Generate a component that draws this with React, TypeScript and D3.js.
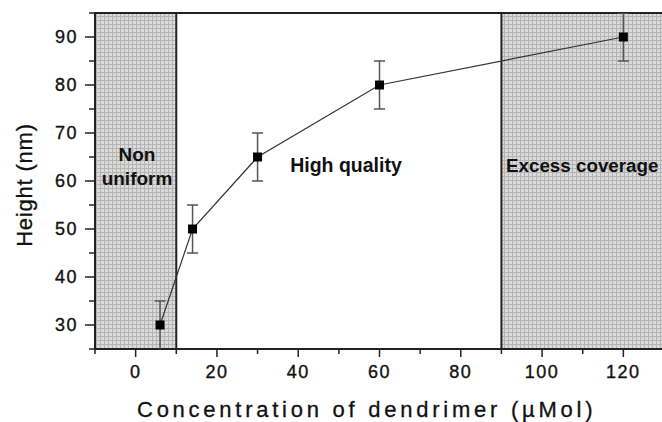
import React from "react";
import * as d3 from "d3";

const concentrations = [6, 14, 30, 60, 120];
const heights = [30, 50, 65, 80, 90];
const errors = [5, 5, 5, 5, 5];
const xTicks = [0, 20, 40, 60, 80, 100, 120];
const yTicks = [30, 40, 50, 60, 70, 80, 90];
const regions = [
  { from: -10, to: 10 },
  { from: 90, to: 130 },
];

const W = 662;
const H = 422;
const FONT = "'Liberation Sans', Arial, sans-serif";

export default function App() {
  const x = d3.scaleLinear().domain([-10, 130]).range([95, 664]);
  const y = d3.scaleLinear().domain([25, 95]).range([349, 13]);
  const pts = concentrations.map((c, i) => ({ c, h: heights[i], e: errors[i] }));
  const line = d3
    .line<{ c: number; h: number }>()
    .x((d) => x(d.c))
    .y((d) => y(d.h));
  const xMinor = d3.range(-10, 131, 10).filter((v) => !xTicks.includes(v));
  const yMinor = d3.range(25, 96, 5).filter((v) => !yTicks.includes(v));
  const clampY = (v: number) => Math.max(25, Math.min(95, v));

  return (
    <svg
      width={W}
      height={H}
      style={{ position: "absolute", left: 0, top: 0, background: "#fff" }}
      fontFamily={FONT}
    >
      <defs>
        <pattern id="hatch" width="4" height="4" patternUnits="userSpaceOnUse">
          <rect width="4" height="4" fill="#dadada" />
          <rect x="0" y="0" width="1" height="4" fill="#b4b4b4" />
          <rect x="0" y="0" width="4" height="1" fill="#b4b4b4" />
        </pattern>
        <clipPath id="plot">
          <rect x={95} y={13} width={W - 95} height={349 - 13} />
        </clipPath>
      </defs>

      {regions.map((r, i) => (
        <rect
          key={i}
          x={x(r.from)}
          y={y(95)}
          width={x(r.to) - x(r.from)}
          height={y(25) - y(95)}
          fill="url(#hatch)"
        />
      ))}
      <line x1={x(10)} x2={x(10)} y1={y(95)} y2={y(25)} stroke="#222" strokeWidth={2} />
      <line x1={x(90)} x2={x(90)} y1={y(95)} y2={y(25)} stroke="#222" strokeWidth={2} />

      <line x1={95} x2={W} y1={y(95)} y2={y(95)} stroke="#222" strokeWidth={2} />
      <line x1={95} x2={W} y1={y(25)} y2={y(25)} stroke="#222" strokeWidth={2} />
      <line x1={95} x2={95} y1={y(95) - 1} y2={y(25) + 1} stroke="#222" strokeWidth={2} />

      {yTicks.map((t) => (
        <g key={"yt" + t}>
          <line x1={85} x2={95} y1={y(t)} y2={y(t)} stroke="#222" strokeWidth={1.5} />
          <text
            x={78}
            y={y(t)}
            dy="0.36em"
            textAnchor="end"
            fontSize={18}
            letterSpacing={1.5}
            fill="#111"
            stroke="#111"
            strokeWidth={0.35}
          >
            {t}
          </text>
        </g>
      ))}
      {yMinor.map((t) => (
        <line key={"ym" + t} x1={89} x2={95} y1={y(t)} y2={y(t)} stroke="#222" strokeWidth={1.5} />
      ))}

      {xTicks.map((t) => (
        <g key={"xt" + t}>
          <line x1={x(t)} x2={x(t)} y1={349} y2={357} stroke="#222" strokeWidth={1.5} />
          <text
            x={x(t)}
            y={378}
            textAnchor="middle"
            fontSize={18}
            letterSpacing={1.5}
            fill="#111"
            stroke="#111"
            strokeWidth={0.35}
          >
            {t}
          </text>
        </g>
      ))}
      {xMinor.map((t) => (
        <line key={"xm" + t} x1={x(t)} x2={x(t)} y1={349} y2={354} stroke="#222" strokeWidth={1.5} />
      ))}

      <text x={137} y={161} textAnchor="middle" fontSize={19} fontWeight="bold" fill="#111">
        Non
      </text>
      <text x={137} y={185} textAnchor="middle" fontSize={19} fontWeight="bold" fill="#111">
        uniform
      </text>
      <text x={346} y={172} textAnchor="middle" fontSize={19.5} fontWeight="bold" fill="#111">
        High quality
      </text>
      <text x={506} y={172} fontSize={18.8} fontWeight="bold" fill="#111">
        Excess coverage
      </text>

      <g clipPath="url(#plot)">
        <path d={line(pts) || ""} fill="none" stroke="#333" strokeWidth={1.2} />
        {pts.map((p, i) => (
          <g key={"eb" + i} stroke="#555" strokeWidth={1.5}>
            <line x1={x(p.c)} x2={x(p.c)} y1={y(clampY(p.h + p.e))} y2={y(clampY(p.h - p.e))} />
            {p.h + p.e <= 95 && (
              <line x1={x(p.c) - 5.5} x2={x(p.c) + 5.5} y1={y(p.h + p.e)} y2={y(p.h + p.e)} />
            )}
            {p.h - p.e > 25 && (
              <line x1={x(p.c) - 5.5} x2={x(p.c) + 5.5} y1={y(p.h - p.e)} y2={y(p.h - p.e)} />
            )}
          </g>
        ))}
        {pts.map((p, i) => (
          <rect key={"pt" + i} x={x(p.c) - 4.5} y={y(p.h) - 4.5} width={9} height={9} fill="#000" />
        ))}
      </g>

      <text
        transform={`translate(32,185) rotate(-90)`}
        textAnchor="middle"
        fontSize={22}
        letterSpacing={0.8}
        fill="#111"
        stroke="#111"
        strokeWidth={0.3}
      >
        Height (nm)
      </text>
      <text
        x={137}
        y={417}
        fontSize={22}
        letterSpacing={3.75}
        fill="#111"
        stroke="#111"
        strokeWidth={0.3}
      >
        Concentration of dendrimer (µMol)
      </text>
    </svg>
  );
}
